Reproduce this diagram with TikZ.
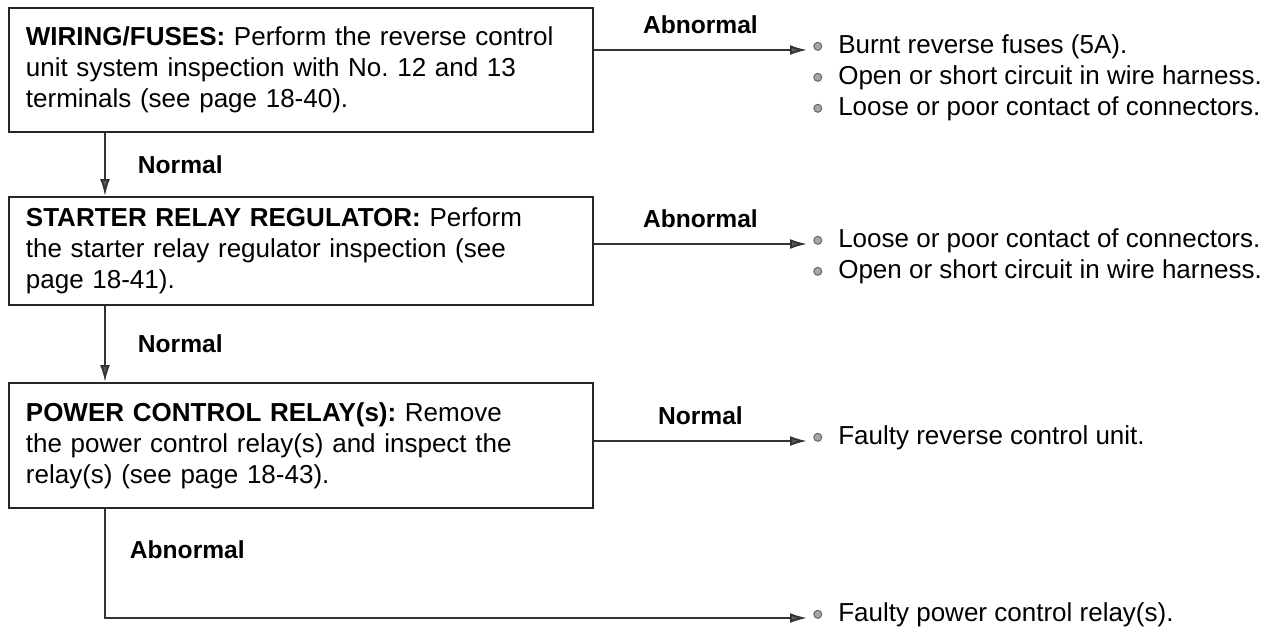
\documentclass[tikz,border=0pt]{standalone}
\usepackage{fontspec}
\setmainfont{Liberation Sans}
\usetikzlibrary{arrows.meta}
\frenchspacing
\newcommand{\ringdot}{\tikz[baseline=-0.55ex]\draw[black!60, fill=black!35, line width=0.7pt] (0,0) circle (0.1);}

\begin{document}
\begin{tikzpicture}[
	checkbox/.style={shape=rectangle, draw=black!85, line width=1.3pt, anchor=north west, minimum width=14.6cm, inner xsep=0.425cm, text width=13.75cm, align=left, font=\fontsize{18.5}{22}\selectfont},
	result/.style={anchor=west, inner xsep=0.15cm, inner ysep=0pt, text height=0.75em, text depth=0.2em, font=\fontsize{18.5}{22}\selectfont},
	flow/.style={draw=black!80, line width=1.3pt, -{Latex[length=12pt,width=7pt,fill=black!65]}},
	verdict/.style={font=\bfseries\fontsize{17.5}{21}\selectfont, inner sep=0pt}
]
	\useasboundingbox (0,0) rectangle (31.85,-15.925);
	% Paths, nodes and wires:
	\coordinate (spine) at (2.625, 0);
	\node[checkbox, minimum height=3.1cm] (wiring) at (0.2, -0.175){\textbf{WIRING/FUSES:} Perform the reverse control\\unit system inspection with No. 12 and 13\\terminals (see page 18-40).};
	\node[checkbox, minimum height=2.7cm] (regulator) at (0.2, -4.9){\textbf{STARTER RELAY REGULATOR:} Perform\\the starter relay regulator inspection (see\\page 18-41).};
	\node[checkbox, minimum height=3.125cm] (relays) at (0.2, -9.55){\textbf{POWER CONTROL RELAY(s):} Remove\\the power control relay(s) and inspect the\\relay(s) (see page 18-43).};
	\node[result] (fuses) at (20.175, -1.25){\ringdot\hspace{0.4cm}Burnt reverse fuses (5A).};
	\node[result] (harness1) at (20.175, -2.025){\ringdot\hspace{0.4cm}Open or short circuit in wire harness.};
	\node[result] (contact1) at (20.175, -2.8){\ringdot\hspace{0.4cm}Loose or poor contact of connectors.};
	\node[result] (contact2) at (20.175, -6.1){\ringdot\hspace{0.4cm}Loose or poor contact of connectors.};
	\node[result] (harness2) at (20.175, -6.875){\ringdot\hspace{0.4cm}Open or short circuit in wire harness.};
	\node[result] (unit) at (20.175, -11.025){\ringdot\hspace{0.4cm}Faulty reverse control unit.};
	\node[result] (relay) at (20.175, -15.45){\ringdot\hspace{0.4cm}Faulty power control relay(s).};
	\draw[flow] (wiring.east |- fuses.west) -- node[verdict, above=0.375cm] (bad1) {Abnormal} (fuses.west);
	\draw[flow] (regulator.east |- contact2.west) -- node[verdict, above=0.375cm] (bad2) {Abnormal} (contact2.west);
	\draw[flow] (relays.east |- unit.west) -- node[verdict, above=0.375cm] (good3) {Normal} (unit.west);
	\draw[flow] (wiring.south -| spine) -- node[verdict, right=0.8cm] (good1) {Normal} (regulator.north -| spine);
	\draw[flow] (regulator.south -| spine) -- node[verdict, right=0.8cm] (good2) {Normal} (relays.north -| spine);
	\draw[flow] (relays.south -| spine) |- node[verdict, pos=0.185, right=0.6cm] (bad3) {Abnormal} (relay.west);
\end{tikzpicture}
\end{document}
